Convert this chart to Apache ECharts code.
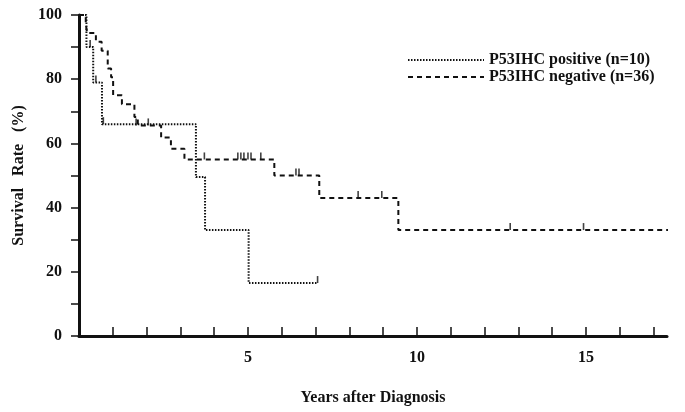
<!DOCTYPE html>
<html>
<head>
<meta charset="utf-8">
<script src="https://cdn.jsdelivr.net/npm/echarts@6/dist/echarts.min.js"></script>
<style>
  html, body { margin: 0; padding: 0; background: #fff; }
</style>
</head>
<body>
<div id="myChart" style="width: 685px; height: 412px"></div>
<script>
// Kaplan-Meier steps, [years, survival %]
const positiveSteps = [[0, 100], [0.22, 90], [0.42, 79], [0.68, 66], [3.46, 49.5], [3.73, 33], [5.02, 16.5], [7.06, 16.5]]
const negativeSteps = [[0, 100], [0.2, 97.2], [0.24, 94.4], [0.5, 91.7], [0.67, 88.9], [0.85, 83.3], [0.95, 80.6],
  [1.01, 75], [1.27, 72.2], [1.64, 68.2], [1.74, 65.6], [2.43, 61.8], [2.72, 58.3], [3.12, 55],
  [5.78, 50], [7.11, 43], [9.45, 33], [17.8, 33]]
// censored cases (tick marks)
const positiveCensored = [[0.33, 90], [0.5, 79], [0.72, 66], [7.06, 16.5]]
const negativeCensored = [[1.69, 65.6], [2.05, 65.6], [3.71, 55], [4.7, 55], [4.79, 55], [4.88, 55], [5.0, 55],
  [5.09, 55], [5.38, 55], [6.42, 50], [6.51, 50], [8.26, 43], [8.96, 43], [12.76, 33], [14.93, 33]]
const xLabels = [5, 10, 15]
const yLabels = [0, 20, 40, 60, 80, 100]
const seriesNames = ['P53IHC positive (n=10)', 'P53IHC negative (n=36)']

const ink = '#111'
const serif = '"Liberation Serif", "DejaVu Serif", serif'

const tickMark = {
  type: 'scatter',
  symbol: 'rect',
  symbolSize: [1.6, 7],
  symbolOffset: [0, -3.5],
  itemStyle: { color: ink },
  silent: true,
  z: 3
}

const myOption = {
  animation: false,
  backgroundColor: '#fff',
  grid: { left: 79, right: 18, top: 15, bottom: 76 },
  legend: {
    data: seriesNames,
    orient: 'vertical',
    left: 402,
    top: 47,
    itemWidth: 76,
    itemHeight: 12,
    itemGap: 1,
    itemStyle: { opacity: 0 },
    textStyle: { fontFamily: serif, fontSize: 16, fontWeight: 'bold', color: ink }
  },
  xAxis: {
    type: 'value',
    min: 0,
    max: 17.4,
    interval: 1,
    name: 'Years after Diagnosis',
    nameLocation: 'middle',
    nameGap: 54,
    nameTextStyle: { fontFamily: serif, fontSize: 16, fontWeight: 'bold', color: ink },
    axisLine: { lineStyle: { color: ink, width: 3 } },
    axisTick: { inside: true, length: 9, lineStyle: { color: ink, width: 1.5 } },
    axisLabel: {
      showMinLabel: false,
      showMaxLabel: false,
      margin: 14,
      fontFamily: serif, fontSize: 16, fontWeight: 'bold', color: ink,
      formatter: v => (xLabels.includes(v) ? String(v) : '')
    },
    splitLine: { show: false }
  },
  yAxis: {
    type: 'value',
    min: 0,
    max: 100,
    interval: 10,
    name: 'Survival   Rate   (%)',
    nameLocation: 'middle',
    nameGap: 52,
    nameTextStyle: { fontFamily: serif, fontSize: 16, fontWeight: 'bold', color: ink },
    axisLine: { show: true, lineStyle: { color: ink, width: 3 } },
    axisTick: { show: true, length: 8, lineStyle: { color: ink, width: 1.5 } },
    axisLabel: {
      margin: 17,
      fontFamily: serif, fontSize: 16, fontWeight: 'bold', color: ink,
      formatter: v => (yLabels.includes(v) ? String(v) : '')
    },
    splitLine: { show: false }
  },
  series: [
    {
      name: seriesNames[0],
      type: 'line',
      step: 'end',
      symbol: 'none',
      data: positiveSteps,
      lineStyle: { color: ink, width: 2, type: [1.5, 1.5] },
      itemStyle: { color: ink },
      z: 4
    },
    {
      name: seriesNames[1],
      type: 'line',
      step: 'end',
      symbol: 'none',
      clip: false,
      data: negativeSteps,
      lineStyle: { color: ink, width: 2, type: [5, 4] },
      itemStyle: { color: ink },
      z: 4
    },
    Object.assign({ name: 'censor+', data: positiveCensored }, tickMark),
    Object.assign({ name: 'censor-', data: negativeCensored }, tickMark)
  ]
}

// 初始化echarts實例
const myChart = echarts.init(document.getElementById('myChart'))
myChart.setOption(myOption)
</script>
</body>
</html>
